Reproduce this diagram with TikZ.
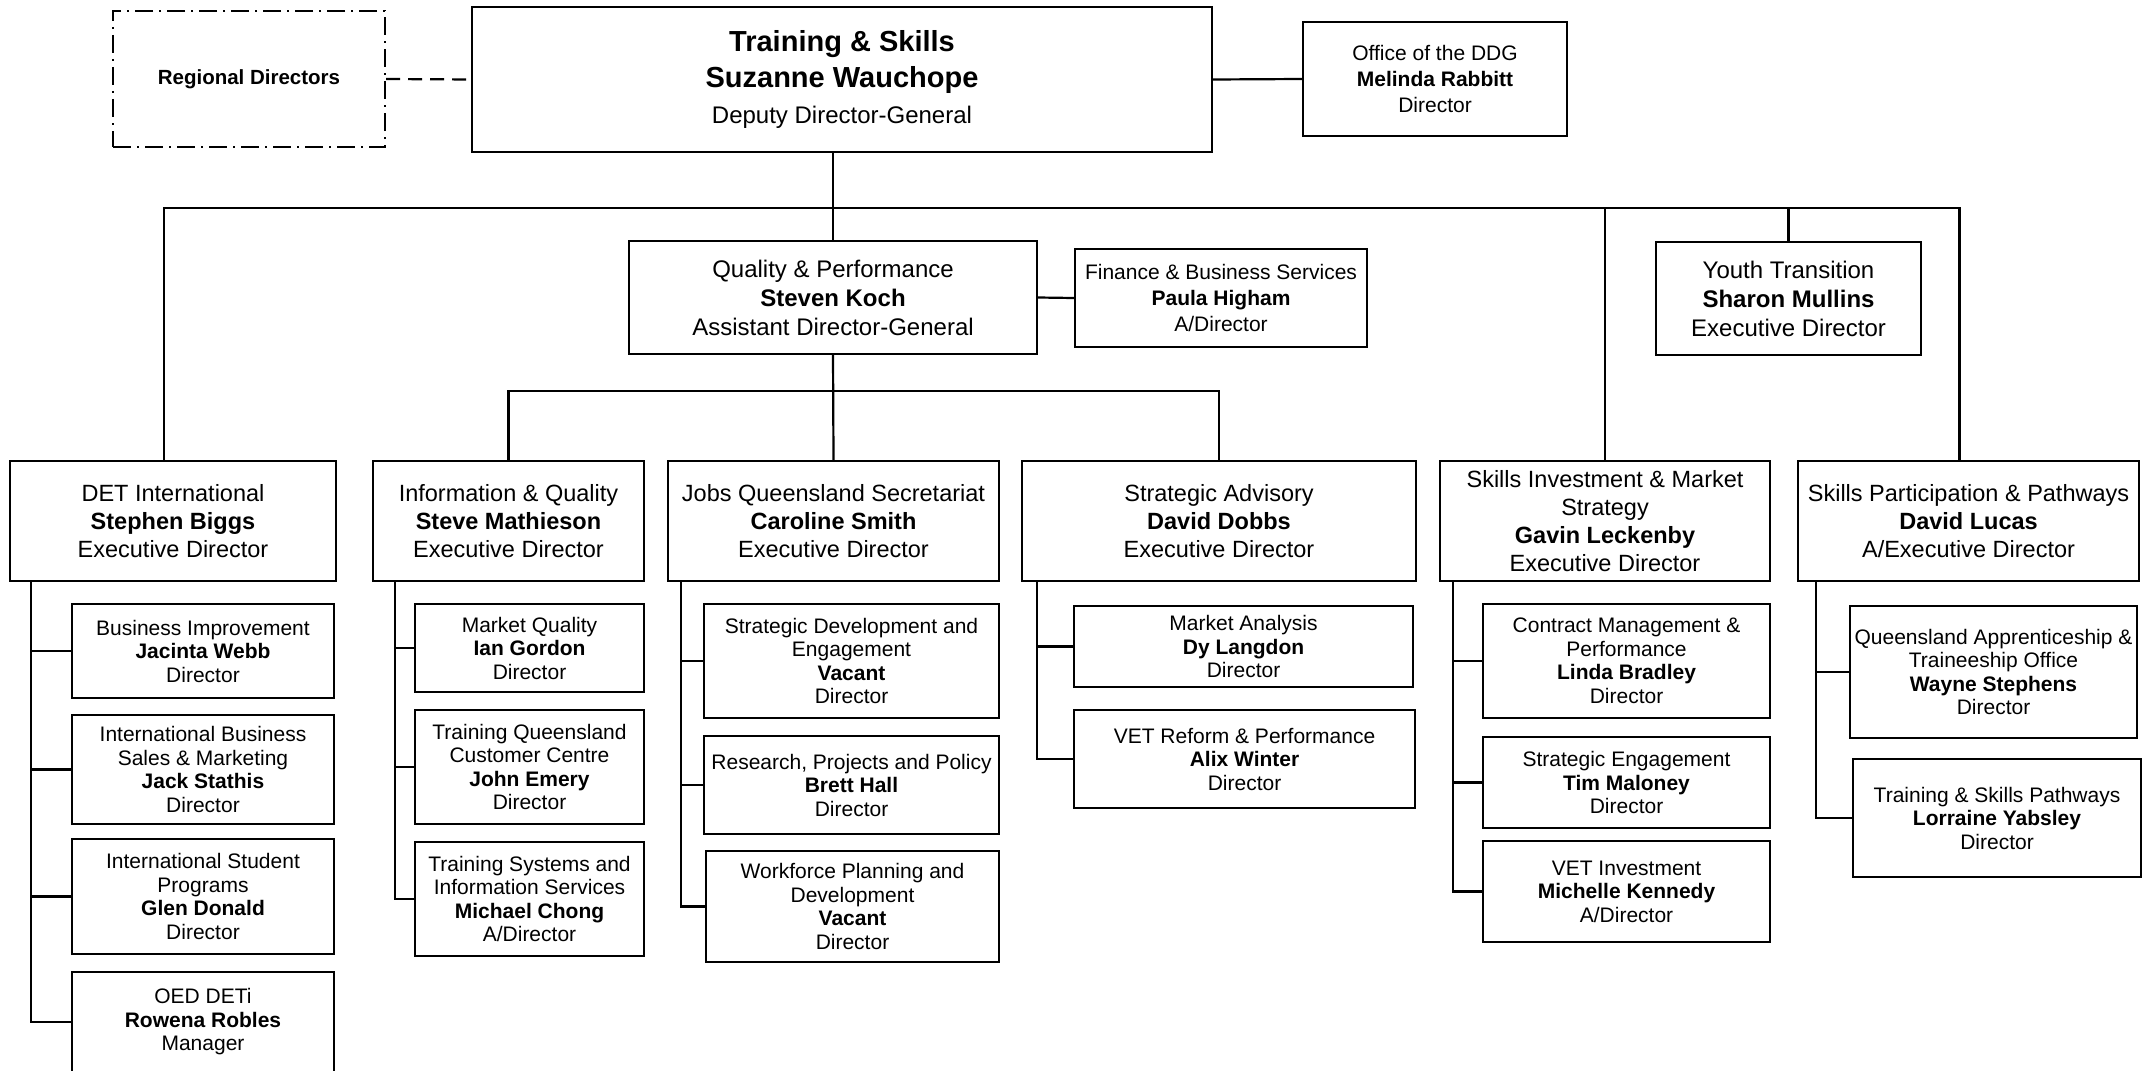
\documentclass[tikz,border=0pt]{standalone}
\usepackage{fontspec}
\setmainfont{Liberation Sans}
\begin{document}
\begin{tikzpicture}[x=0.5pt,y=-0.5pt,
  orgbox/.style={draw,line width=1.2pt,inner sep=0pt,align=center},
  boxsize/.style 2 args={minimum width=#1pt,minimum height=#2pt},
  headtxt/.style={font=\fontsize{14.5}{18}\selectfont},
  advtxt/.style={font=\fontsize{12}{14.5}\selectfont},
  offtxt/.style={font=\fontsize{10.5}{13}\selectfont},
  edtxt/.style={font=\fontsize{11.75}{14}\selectfont},
  dirtxt/.style={font=\fontsize{10.5}{11.75}\selectfont},
  link/.style={line width=1.1pt}]
  \useasboundingbox (0,0) rectangle (2150,1070);
  \clip (0,0) rectangle (2150,1070);
  % top row
  \node[orgbox,headtxt,boxsize={370}{72.5}] (ts) at (842,79.5)
    {\textbf{Training \& Skills}\\\textbf{Suzanne Wauchope}\\{\fontsize{12}{14}\selectfont Deputy Director-General}};
  \node[orgbox,line width=1pt,dash pattern=on 9pt off 3pt on 1pt off 3pt,boxsize={136}{68},font=\fontsize{10.25}{12}\selectfont\bfseries] (reg) at (249,79) {Regional Directors};
  \node[orgbox,offtxt,boxsize={132}{57}] (ddg) at (1435,79)
    {Office of the DDG\\\textbf{Melinda Rabbitt}\\Director};
  % second row
  \node[orgbox,advtxt,boxsize={204}{56.5}] (qp) at (833,297.5)
    {Quality \& Performance\\\textbf{Steven Koch}\\Assistant Director-General};
  \node[orgbox,offtxt,boxsize={146}{49}] (fin) at (1221,298)
    {Finance \& Business Services\\\textbf{Paula Higham}\\A/Director};
  \node[orgbox,advtxt,boxsize={132.5}{56.5}] (yt) at (1788.5,298.5)
    {Youth Transition\\\textbf{Sharon Mullins}\\Executive Director};
  % executive directors
  \node[orgbox,edtxt,boxsize={163}{60}] (det) at (173,521)
    {DET International\\\textbf{Stephen Biggs}\\Executive Director};
  \node[orgbox,edtxt,boxsize={135.5}{60}] (iq) at (508.5,521)
    {Information \& Quality\\\textbf{Steve Mathieson}\\Executive Director};
  \node[orgbox,edtxt,boxsize={165.5}{60}] (jq) at (833.5,521)
    {Jobs Queensland Secretariat\\\textbf{Caroline Smith}\\Executive Director};
  \node[orgbox,edtxt,boxsize={197}{60}] (sa) at (1219,521)
    {Strategic Advisory\\\textbf{David Dobbs}\\Executive Director};
  \node[orgbox,edtxt,boxsize={165}{60}] (si) at (1605,521)
    {Skills Investment \& Market\\Strategy\\\textbf{Gavin Leckenby}\\Executive Director};
  \node[orgbox,edtxt,boxsize={170.5}{60}] (sp) at (1968.5,521)
    {Skills Participation \& Pathways\\\textbf{David Lucas}\\A/Executive Director};
  % directors
  \node[orgbox,dirtxt,boxsize={131}{47}] (bi) at (203,651)
    {Business Improvement\\\textbf{Jacinta Webb}\\Director};
  \node[orgbox,dirtxt,boxsize={131}{54.5}] (ibs) at (203,769.5)
    {International Business\\Sales \& Marketing\\\textbf{Jack Stathis}\\Director};
  \node[orgbox,dirtxt,boxsize={131}{57.5}] (isp) at (203,896.5)
    {International Student\\Programs\\\textbf{Glen Donald}\\Director};
  \node[orgbox,dirtxt,boxsize={131}{50}] (oed) at (203,1022)
    {OED DETi\\\textbf{Rowena Robles}\\Manager};
  \node[orgbox,dirtxt,boxsize={114.5}{44}] (mq) at (529.5,648)
    {Market Quality\\\textbf{Ian Gordon}\\Director};
  \node[orgbox,dirtxt,boxsize={114.5}{57}] (tqc) at (529.5,767)
    {Training Queensland\\Customer Centre\\\textbf{John Emery}\\Director};
  \node[orgbox,dirtxt,boxsize={114.5}{57}] (tsi) at (529.5,899)
    {Training Systems and\\Information Services\\\textbf{Michael Chong}\\A/Director};
  \node[orgbox,dirtxt,boxsize={147.5}{57}] (sde) at (851.5,661)
    {Strategic Development and\\Engagement\\\textbf{Vacant}\\Director};
  \node[orgbox,dirtxt,boxsize={147.5}{49}] (rpp) at (851.5,785)
    {Research, Projects and Policy\\\textbf{Brett Hall}\\Director};
  \node[orgbox,dirtxt,boxsize={146.5}{55.5}] (wpd) at (852.5,906.5)
    {Workforce Planning and\\Development\\\textbf{Vacant}\\Director};
  \node[orgbox,dirtxt,boxsize={169.5}{40.5}] (ma) at (1243.5,646.5)
    {Market Analysis\\\textbf{Dy Langdon}\\Director};
  \node[orgbox,dirtxt,boxsize={170.5}{49}] (vrp) at (1244.5,759)
    {VET Reform \& Performance\\\textbf{Alix Winter}\\Director};
  \node[orgbox,dirtxt,boxsize={143.5}{57}] (cmp) at (1626.5,661)
    {Contract Management \&\\Performance\\\textbf{Linda Bradley}\\Director};
  \node[orgbox,dirtxt,boxsize={143.5}{45.5}] (se) at (1626.5,782.5)
    {Strategic Engagement\\\textbf{Tim Maloney}\\Director};
  \node[orgbox,dirtxt,boxsize={143.5}{50.5}] (vi) at (1626.5,891.5)
    {VET Investment\\\textbf{Michelle Kennedy}\\A/Director};
  \node[orgbox,dirtxt,boxsize={143.5}{66}] (qat) at (1993.5,672)
    {Queensland Apprenticeship \&\\Traineeship Office\\\textbf{Wayne Stephens}\\Director};
  \node[orgbox,dirtxt,boxsize={144}{59}] (tsp) at (1997,818)
    {Training \& Skills Pathways\\\textbf{Lorraine Yabsley}\\Director};
  % connectors
  \coordinate (bus) at (0,208);
  \coordinate (subbus) at (0,391);
  \draw[link,dash pattern=on 7pt off 4pt] (reg.east) -- (ts.west);
  \draw[link] (ts.east) -- (ddg.west);
  \draw[link] (ts.south -| qp.north) -- (qp.north);
  \draw[link] ([xshift=-4.5pt]det.north) |- ([xshift=-4.5pt]sp.north |- bus) -- ([xshift=-4.5pt]sp.north);
  \draw[link] (si.north) -- (si.north |- bus);
  \draw[link] (yt.north) -- (yt.north |- bus);
  \draw[link] (qp.east) -- (fin.west);
  \draw[link] (qp.south) -- (jq.north);
  \draw[link] (iq.north) |- (sa.north |- subbus) -- (sa.north);
  % spines
  \coordinate (detsp) at (31,581);
  \coordinate (iqsp) at (395,581);
  \coordinate (jqsp) at (681,581);
  \coordinate (sasp) at (1037,581);
  \coordinate (sisp) at (1453,581);
  \coordinate (spsp) at (1816,581);
  \foreach \c in {bi,ibs,isp,oed} \draw[link] (detsp) |- (\c.west);
  \foreach \c in {mq,tqc,tsi} \draw[link] (iqsp) |- (\c.west);
  \foreach \c in {sde,rpp,wpd} \draw[link] (jqsp) |- (\c.west);
  \foreach \c in {ma,vrp} \draw[link] (sasp) |- (\c.west);
  \foreach \c in {cmp,se,vi} \draw[link] (sisp) |- (\c.west);
  \foreach \c in {qat,tsp} \draw[link] (spsp) |- (\c.west);
\end{tikzpicture}
\end{document}
